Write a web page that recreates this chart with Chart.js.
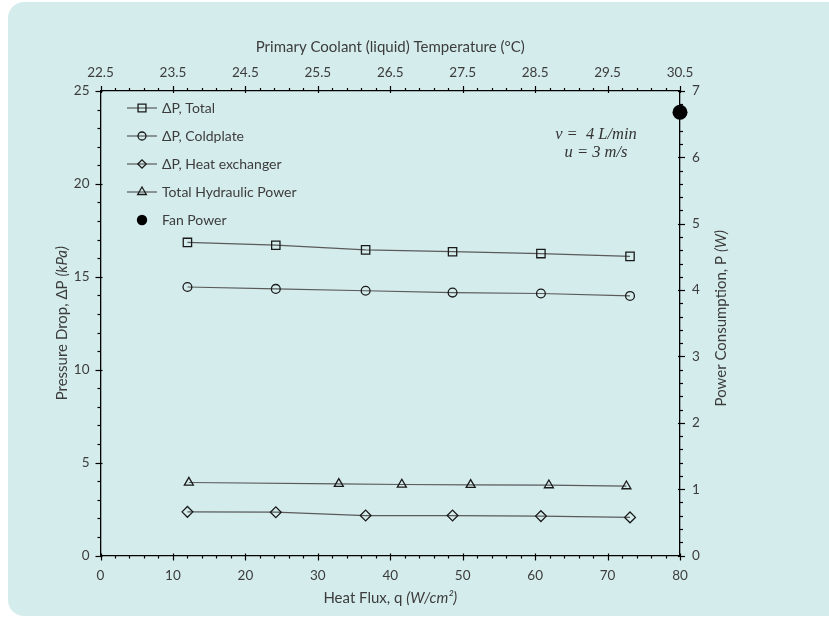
<!DOCTYPE html>
<html>
<head>
<meta charset="utf-8">
<script src="https://cdn.jsdelivr.net/npm/chart.js@4.4.1/dist/chart.umd.min.js"></script>
<style>
  html, body { margin: 0; padding: 0; background: #ffffff; }
  #wrap { position: relative; width: 829px; height: 620px; overflow: hidden; }
  #panel {
    position: absolute; left: 8px; top: 2px; width: 860px; height: 614px;
    background: rgb(213, 236, 236); border-radius: 16px;
  }
  #chart { position: absolute; left: 0; top: 0; }
</style>
</head>
<body>
<div id="wrap">
  <div id="panel"></div>
  <canvas id="chart" width="829" height="620"></canvas>
</div>
<script>
// heat flux (W/cm2) where pressure drops were measured
const heatFluxDP = [12.0, 24.2, 36.6, 48.6, 60.8, 73.1];
const dpTotal = [16.85, 16.7, 16.45, 16.35, 16.25, 16.1];
const dpColdplate = [14.45, 14.35, 14.25, 14.15, 14.1, 13.97];
const dpHeatExchanger = [2.35, 2.33, 2.15, 2.15, 2.12, 2.05];

// hydraulic power (W) on the right axis
const heatFluxHydraulic = [12.2, 32.9, 41.6, 51.1, 61.9, 72.6];
const hydraulicPower = [1.10, 1.08, 1.07, 1.065, 1.06, 1.045];

// fan power (W)
const heatFluxFan = [80];
const fanPower = [6.68];

// tick values
const fluxTicks = [0, 10, 20, 30, 40, 50, 60, 70, 80];
const tempTicks = [22.5, 23.5, 24.5, 25.5, 26.5, 27.5, 28.5, 29.5, 30.5];
const dpTicks = [0, 5, 10, 15, 20, 25];
const powerTicks = [0, 1, 2, 3, 4, 5, 6, 7];

const FONT = 'Lato, "Open Sans", sans-serif';
const TEXT = '#3c3c3c';
const LINE = '#5a5a5a';
const MARK = '#1a1a1a';

function toPoints(xs, ys) {
  return xs.map((x, i) => ({ x: x, y: ys[i] }));
}

function fixedTicks(values) {
  return (scale) => { scale.ticks = values.map((v) => ({ value: v })); };
}

const series = [
  { label: '\u0394P, Total', data: toPoints(heatFluxDP, dpTotal), pointStyle: 'rect', pointRadius: 5.9, legendRadius: 5.6, yAxisID: 'y' },
  { label: '\u0394P, Coldplate', data: toPoints(heatFluxDP, dpColdplate), pointStyle: 'circle', pointRadius: 4.4, legendRadius: 4.0, yAxisID: 'y' },
  { label: '\u0394P, Heat exchanger', data: toPoints(heatFluxDP, dpHeatExchanger), pointStyle: 'rectRot', pointRadius: 5.4, legendRadius: 4.2, yAxisID: 'y' },
  { label: 'Total Hydraulic Power', data: toPoints(heatFluxHydraulic, hydraulicPower), pointStyle: 'triangle', pointRadius: 5.2, legendRadius: 5.0, yAxisID: 'y2' },
];

const datasets = series.map((s) => ({
  label: s.label,
  data: s.data,
  yAxisID: s.yAxisID,
  xAxisID: 'x',
  showLine: true,
  borderColor: LINE,
  borderWidth: 1.2,
  pointStyle: s.pointStyle,
  pointRadius: s.pointRadius,
  pointHoverRadius: s.pointRadius,
  legendRadius: s.legendRadius,
  pointBorderColor: MARK,
  pointBorderWidth: 1.3,
  pointBackgroundColor: 'rgba(0,0,0,0)',
}));

datasets.push({
  label: 'Fan Power',
  data: toPoints(heatFluxFan, fanPower),
  yAxisID: 'y2',
  xAxisID: 'x',
  showLine: false,
  pointStyle: 'circle',
  pointRadius: 7.5,
  legendRadius: 5.2,
  pointBorderWidth: 0,
  pointBackgroundColor: '#000000',
  clip: false,
});

// minor + major tick marks drawn outward from every axis
const tickMarks = {
  id: 'tickMarks',
  afterDraw(chart) {
    const ctx = chart.ctx;
    const area = chart.chartArea;
    const defs = [
      { id: 'x', minor: 2, major: 10, side: 'bottom' },
      { id: 'x2', minor: 0.2, major: 1, side: 'top', base: 22.5 },
      { id: 'y', minor: 1, major: 5, side: 'left' },
      { id: 'y2', minor: 0.2, major: 1, side: 'right' },
    ];
    ctx.save();
    ctx.strokeStyle = '#000';
    ctx.lineWidth = 1.2;
    defs.forEach((d) => {
      const sc = chart.scales[d.id];
      const base = d.base || 0;
      const n = Math.round((sc.max - sc.min) / d.minor);
      for (let i = 0; i <= n; i++) {
        const v = sc.min + i * d.minor;
        const isMajor = Math.abs(((v - base) / d.major) - Math.round((v - base) / d.major)) < 1e-6;
        const out = isMajor ? 5 : 3;
        const inn = isMajor ? 2 : 0;
        const p = Math.round(sc.getPixelForValue(v)) + 0.5;
        ctx.beginPath();
        if (d.side === 'bottom') { ctx.moveTo(p, area.bottom - inn); ctx.lineTo(p, area.bottom + out); }
        if (d.side === 'top') { ctx.moveTo(p, area.top + inn); ctx.lineTo(p, area.top - out); }
        if (d.side === 'left') { ctx.moveTo(area.left + inn, p); ctx.lineTo(area.left - out, p); }
        if (d.side === 'right') { ctx.moveTo(area.right - inn, p); ctx.lineTo(area.right + out, p); }
        ctx.stroke();
      }
    });
    ctx.restore();
  },
};

// draws a run of text pieces, some italic, centred on (0, 0)
function drawMixed(ctx, parts, size) {
  let total = 0;
  parts.forEach((p) => {
    ctx.font = (p.italic ? 'italic ' : '') + size + 'px ' + FONT;
    p.w = ctx.measureText(p.text).width;
    total += p.w;
  });
  let x = -total / 2;
  parts.forEach((p) => {
    ctx.font = (p.italic ? 'italic ' : '') + size + 'px ' + FONT;
    ctx.fillText(p.text, x, 0);
    x += p.w;
  });
}

const axisTitles = {
  id: 'axisTitles',
  afterDraw(chart) {
    const ctx = chart.ctx;
    const a = chart.chartArea;
    const cx = (a.left + a.right) / 2;
    const cy = (a.top + a.bottom) / 2;
    ctx.save();
    ctx.fillStyle = TEXT;
    ctx.textAlign = 'left';
    ctx.textBaseline = 'middle';

    ctx.save();
    ctx.translate(cx, 47);
    drawMixed(ctx, [{ text: 'Primary Coolant (liquid) Temperature (\u00B0C)' }], 15);
    ctx.restore();

    ctx.save();
    ctx.translate(cx, 598);
    drawMixed(ctx, [{ text: 'Heat Flux, q ' }, { text: '(W/cm\u00B2)', italic: true }], 15);
    ctx.restore();

    ctx.save();
    ctx.translate(62, cy);
    ctx.rotate(-Math.PI / 2);
    drawMixed(ctx, [{ text: 'Pressure Drop, \u0394P ' }, { text: '(kPa)', italic: true }], 15);
    ctx.restore();

    ctx.save();
    ctx.translate(721, cy - 5);
    ctx.rotate(-Math.PI / 2);
    drawMixed(ctx, [{ text: 'Power Consumption, P ' }, { text: '(W)', italic: true }], 15);
    ctx.restore();

    // operating conditions
    ctx.textAlign = 'center';
    ctx.fillStyle = '#333';
    ctx.font = 'italic 16.5px "Liberation Serif", "DejaVu Serif", serif';
    ctx.fillText('v =  4 L/min', 596, 135);
    ctx.fillText('u = 3 m/s', 596, 153);
    ctx.restore();
  },
};

// legend in the upper-left corner of the plot, marker sitting on a short line
const boxLegend = {
  id: 'boxLegend',
  afterDraw(chart) {
    const ctx = chart.ctx;
    const rows = [108, 136, 164, 192, 220];
    ctx.save();
    chart.data.datasets.forEach((ds, i) => {
      const y = rows[i];
      if (ds.showLine) {
        ctx.strokeStyle = LINE;
        ctx.lineWidth = 1.2;
        ctx.beginPath();
        ctx.moveTo(127, y);
        ctx.lineTo(157, y);
        ctx.stroke();
      }
      ctx.strokeStyle = MARK;
      ctx.fillStyle = ds.pointBackgroundColor;
      ctx.lineWidth = ds.pointBorderWidth || 0.01;
      Chart.helpers.drawPoint(ctx, {
        pointStyle: ds.pointStyle,
        radius: ds.legendRadius,
        borderWidth: ds.pointBorderWidth,
        rotation: 0,
      }, 142, y);
      ctx.fillStyle = TEXT;
      ctx.font = '14px ' + FONT;
      ctx.textAlign = 'left';
      ctx.textBaseline = 'middle';
      ctx.fillText(ds.label, 162, y);
    });
    ctx.restore();
  },
};

const tickFont = { family: FONT, size: 13.5 };
const noGrid = { display: false, drawTicks: true, tickLength: 5 };
const border = { display: true, color: '#000', width: 1.3 };

new Chart(document.getElementById('chart'), {
  type: 'scatter',
  data: { datasets: datasets },
  options: {
    responsive: false,
    animation: false,
    layout: { padding: 0 },
    plugins: { legend: { display: false }, tooltip: { enabled: false } },
    scales: {
      x: {
        type: 'linear', position: 'bottom', min: 0, max: 80,
        afterBuildTicks: fixedTicks(fluxTicks),
        afterFit: (s) => { s.height = 64.5; },
        grid: noGrid, border: border,
        ticks: { font: tickFont, color: TEXT, padding: 7, maxRotation: 0 },
      },
      x2: {
        type: 'linear', position: 'top', min: 22.5, max: 30.5,
        afterBuildTicks: fixedTicks(tempTicks),
        afterFit: (s) => { s.height = 91; },
        grid: noGrid, border: border,
        ticks: { font: tickFont, color: TEXT, padding: 5, maxRotation: 0, callback: (v) => v.toFixed(1) },
      },
      y: {
        type: 'linear', position: 'left', min: 0, max: 25,
        afterBuildTicks: fixedTicks(dpTicks),
        afterFit: (s) => { s.width = 100.5; },
        grid: noGrid, border: border,
        ticks: { font: tickFont, color: TEXT, padding: 6 },
      },
      y2: {
        type: 'linear', position: 'right', min: 0, max: 7,
        afterBuildTicks: fixedTicks(powerTicks),
        afterFit: (s) => { s.width = 149; },
        grid: noGrid, border: border,
        ticks: { font: tickFont, color: TEXT, padding: 7 },
      },
    },
  },
  plugins: [tickMarks, axisTitles, boxLegend],
});
</script>
</body>
</html>
